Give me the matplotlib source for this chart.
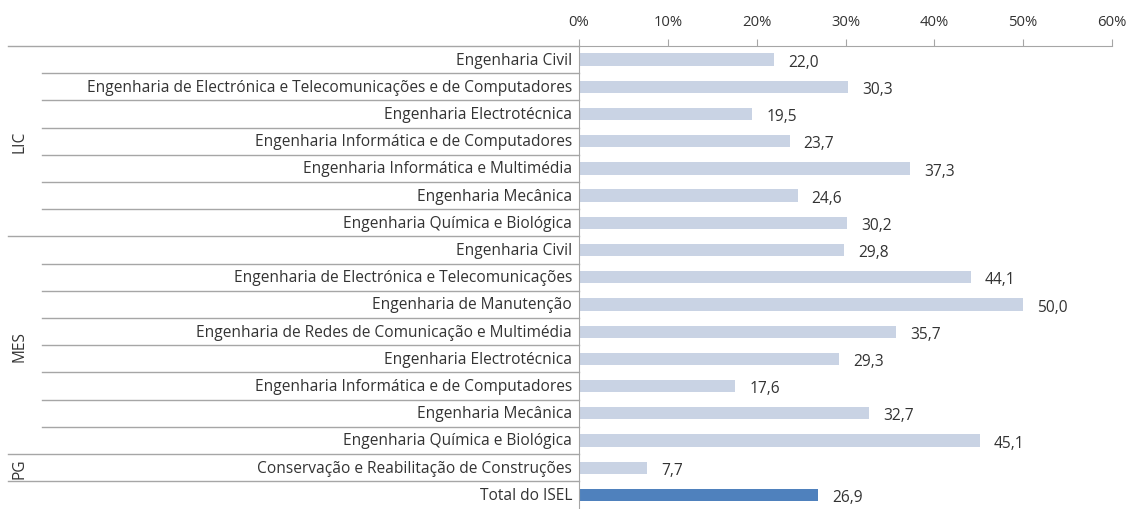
import matplotlib.pyplot as plt
from matplotlib.ticker import FuncFormatter

plt.rcParams['font.family'] = ['Open Sans', 'DejaVu Sans']

# Data
groups = ['LIC', 'MES', 'PG']
group_sizes = [7, 8, 1]
courses = [
    'Engenharia Civil',
    'Engenharia de Electrónica e Telecomunicações e de Computadores',
    'Engenharia Electrotécnica',
    'Engenharia Informática e de Computadores',
    'Engenharia Informática e Multimédia',
    'Engenharia Mecânica',
    'Engenharia Química e Biológica',
    'Engenharia Civil',
    'Engenharia de Electrónica e Telecomunicações',
    'Engenharia de Manutenção',
    'Engenharia de Redes de Comunicação e Multimédia',
    'Engenharia Electrotécnica',
    'Engenharia Informática e de Computadores',
    'Engenharia Mecânica',
    'Engenharia Química e Biológica',
    'Conservação e Reabilitação de Construções',
    'Total do ISEL',
]
values = [22.0, 30.3, 19.5, 23.7, 37.3, 24.6, 30.2,
          29.8, 44.1, 50.0, 35.7, 29.3, 17.6, 32.7, 45.1,
          7.7, 26.9]

text_col = '#333333'
line_col = '#a6a6a6'
bar_col = '#c9d3e4'
total_col = '#4f81bd'
fs = 11.2

fig = plt.figure(figsize=(11.33, 5.10), dpi=100)
ax = fig.add_axes([579 / 1133, 0.0, 533 / 1133, 1 - 47 / 510])

n = len(values)
ypos = list(range(n))
colors = [bar_col] * (n - 1) + [total_col]
ax.barh(ypos, values, height=0.45, color=colors)

for y, v in zip(ypos, values):
    ax.text(v + 1.6, y + 0.08, f'{v:.1f}'.replace('.', ','), va='center', ha='left',
            fontsize=fs, color=text_col)

ax.set_xlim(0, 60)
ax.set_ylim(16.52, -0.5)
ax.set_xticks(range(0, 61, 10))
ax.xaxis.set_major_formatter(FuncFormatter(lambda x, p: f'{x:.0f}%'))
ax.xaxis.tick_top()
ax.tick_params(axis='x', direction='out', length=5, color=line_col, labelcolor=text_col,
               labelsize=fs - 0.5, pad=7)
ax.set_yticks([])
for s in ['right', 'bottom']:
    ax.spines[s].set_visible(False)
ax.spines['top'].set_color(line_col)
ax.spines['left'].set_color(line_col)

# category labels
yt = ax.get_yaxis_transform()
for y, c in zip(ypos, courses):
    ax.text(-0.013, y, c, transform=yt, ha='right', va='center', fontsize=fs,
            color=text_col)

# separator lines
x_outer = (8 - 579) / 533
x_inner = (42 - 579) / 533
ax.plot([x_outer, 0], [-0.5, -0.5], transform=yt, color=line_col, lw=1, clip_on=False)
start = 0
for g, size in zip(groups, group_sizes):
    for k in range(1, size):
        yb = start + k - 0.5
        ax.plot([x_inner, 0], [yb, yb], transform=yt, color=line_col, lw=1, clip_on=False)
    yb = start + size - 0.5
    ax.plot([x_outer, 0], [yb, yb], transform=yt, color=line_col, lw=1, clip_on=False)
    ax.text((20 - 579) / 533, start + (size - 1) / 2, g, transform=yt, rotation=90,
            ha='center', va='center', fontsize=fs, color=text_col)
    start += size

fig.savefig('out.png', dpi=100)
